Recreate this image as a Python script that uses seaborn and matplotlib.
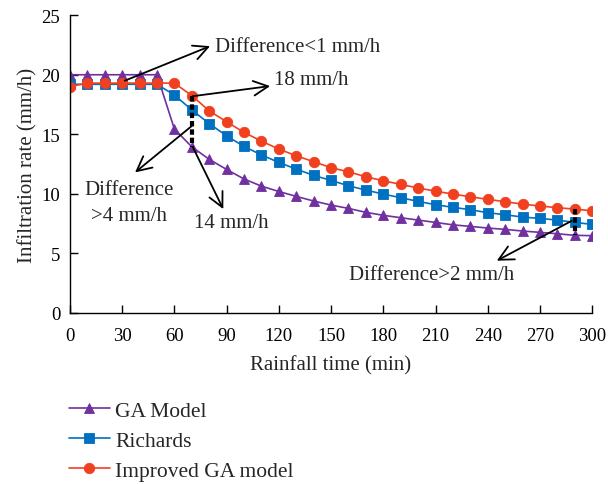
import matplotlib
matplotlib.use("Agg")
import matplotlib.pyplot as plt
import seaborn as sns
import pandas as pd

time_min = [0, 10, 20, 30, 40, 50, 60, 70, 80, 90, 100, 110, 120, 130, 140, 150,
            160, 170, 180, 190, 200, 210, 220, 230, 240, 250, 260, 270, 280, 290, 300]
ga_model = [20.0, 20.0, 20.0, 20.0, 20.0, 20.0, 15.45, 13.95, 12.9, 12.05, 11.25, 10.65,
            10.2, 9.79, 9.4, 9.06, 8.78, 8.45, 8.2, 8.0, 7.8, 7.6, 7.4, 7.27, 7.13, 7.02,
            6.88, 6.77, 6.65, 6.52, 6.49]
richards = [19.2, 19.2, 19.2, 19.2, 19.2, 19.2, 18.3, 17.05, 15.9, 14.87, 13.98, 13.27,
            12.64, 12.08, 11.55, 11.13, 10.68, 10.32, 9.98, 9.68, 9.37, 9.09, 8.87, 8.67,
            8.42, 8.25, 8.05, 7.94, 7.8, 7.6, 7.44]
improved_ga = [19.0, 19.3, 19.3, 19.3, 19.3, 19.3, 19.3, 18.25, 16.97, 16.05, 15.16, 14.43,
               13.76, 13.2, 12.7, 12.2, 11.85, 11.44, 11.1, 10.8, 10.49, 10.23, 9.98, 9.76,
               9.54, 9.34, 9.14, 8.98, 8.84, 8.72, 8.58]
series_names = ["GA Model", "Richards", "Improved GA model"]
x_ticks = [0, 30, 60, 90, 120, 150, 180, 210, 240, 270, 300]
y_ticks = [0, 5, 10, 15, 20, 25]

sns.set_theme(style="ticks")
plt.rcParams["font.family"] = ["Liberation Serif", "DejaVu Serif"]
plt.rcParams["font.size"] = 15

df = pd.DataFrame({"t": time_min, "GA Model": ga_model, "Richards": richards,
                   "Improved GA model": improved_ga})

fig = plt.figure(figsize=(6.08, 4.85), dpi=100)
ax = fig.add_axes([0.115, 0.3526, 0.859, 0.614])

styles = {
    "GA Model": dict(color="#7030A0", marker="^", ms=7.5),
    "Richards": dict(color="#0070C0", marker="s", ms=7),
    "Improved GA model": dict(color="#F0401F", marker="o", ms=7.5),
}
for name in series_names:
    st = styles[name]
    sns.lineplot(data=df, x="t", y=name, ax=ax, color=st["color"], marker=st["marker"],
                 markersize=st["ms"], markeredgewidth=0.6, markeredgecolor=st["color"],
                 linewidth=1.2, label=name)

# dashed difference bars
i70 = time_min.index(70)
i290 = time_min.index(290)
for i in (i70, i290):
    ax.plot([time_min[i], time_min[i]], [improved_ga[i], ga_model[i]], color="black",
            lw=3, ls=(0, (1.3, 0.7)), zorder=5)

ap = dict(arrowstyle="->,head_length=0.7,head_width=0.35", color="black", lw=1.3,
          shrinkA=0, shrinkB=0)
fs = 15
ax.annotate("", xy=(80.5, 22.4), xytext=(31.5, 19.5), arrowprops=ap)
ax.text(83.3, 22.4, "Difference<1 mm/h", ha="left", va="center", fontsize=fs)
ax.annotate("", xy=(115, 19.05), xytext=(time_min[i70] + 0.5, improved_ga[i70] - 0.05),
            arrowprops=ap)
ax.text(117.3, 19.6, "18 mm/h", ha="left", va="center", fontsize=fs)
ax.annotate("", xy=(37.4, 11.8), xytext=(70, 15.7), arrowprops=ap)
ax.text(33.9, 10.4, "Difference", ha="center", va="center", fontsize=fs)
ax.text(33.9, 8.2, ">4 mm/h", ha="center", va="center", fontsize=fs)
ax.annotate("", xy=(88.1, 8.72), xytext=(time_min[i70] + 0.5, ga_model[i70]), arrowprops=ap)
ax.text(92.9, 7.6, "14 mm/h", ha="center", va="center", fontsize=fs)
ax.annotate("", xy=(245.2, 4.39), xytext=(288.3, 7.74), arrowprops=ap)
ax.text(207.5, 3.27, "Difference>2 mm/h", ha="center", va="center", fontsize=fs)

ax.set_xlim(0, 300)
ax.set_ylim(0, 25)
ax.set_xticks(x_ticks)
ax.set_yticks(y_ticks)
ax.margins(0)
ax.tick_params(direction="in", length=6, width=1, colors="black", labelsize=13.5, pad=7)
ax.tick_params(axis="x", pad=10)
for s in ("top", "right"):
    ax.spines[s].set_visible(False)
for s in ("left", "bottom"):
    ax.spines[s].set_linewidth(1)
    ax.spines[s].set_color("black")
ax.set_xlabel("Rainfall time (min)", fontsize=15, labelpad=8)
ax.set_ylabel("Infiltration rate (mm/h)", fontsize=15, labelpad=3)

leg = ax.legend(loc="upper left", bbox_to_anchor=(0.113, 0.172), bbox_transform=fig.transFigure,
                frameon=False, fontsize=15.5, handlelength=1.9, handletextpad=0.25,
                labelspacing=0.47, borderaxespad=0, borderpad=0)

fig.savefig("out.png", dpi=100)
